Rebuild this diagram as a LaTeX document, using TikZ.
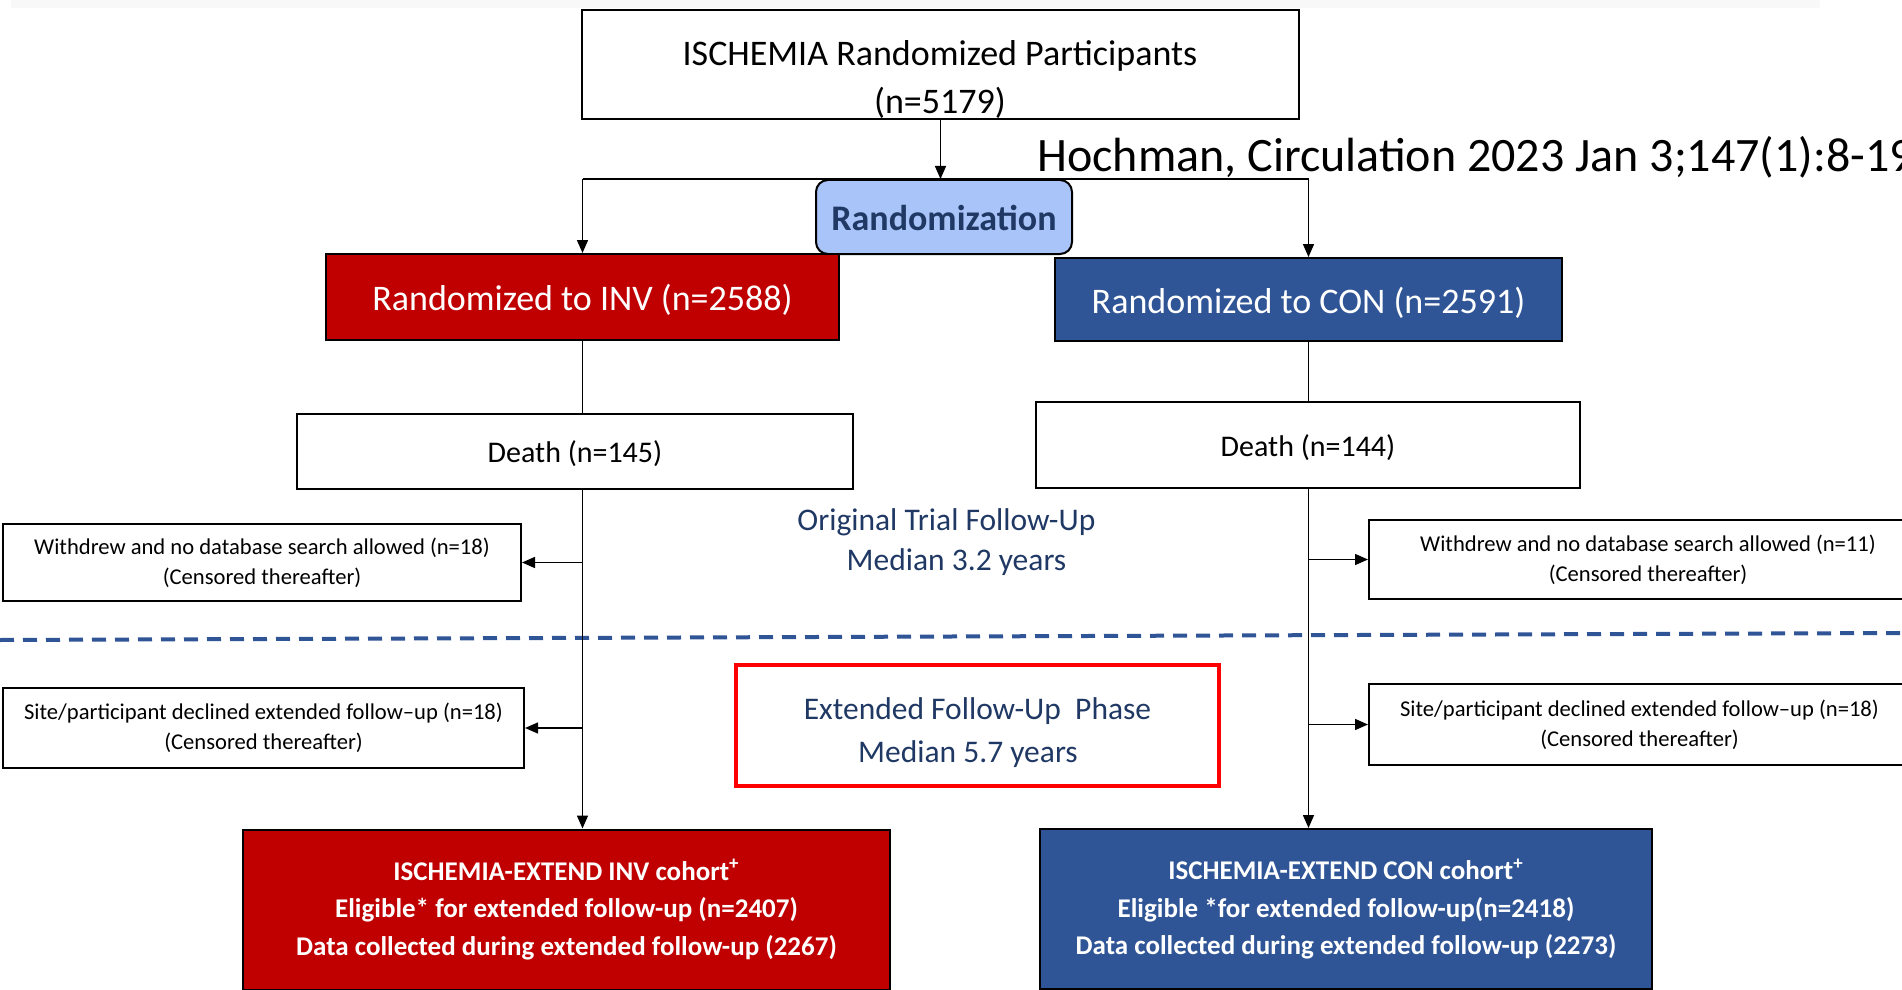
\documentclass[tikz,border=0pt]{standalone}
\usepackage{fontspec}
\setmainfont{Carlito}
\usetikzlibrary{arrows.meta}
\definecolor{invred}{HTML}{C00000}
\definecolor{conblue}{HTML}{2F5597}
\definecolor{randfill}{HTML}{A9C4F9}
\definecolor{navy}{HTML}{1F3864}
\definecolor{dashblue}{HTML}{2F5597}
\definecolor{stripgray}{HTML}{F8F8F8}
\definecolor{extred}{HTML}{FF0000}
\newcommand{\fsz}[2]{\fontsize{#1}{#2}\selectfont}
\newcommand{\dn}[2]{\raisebox{-#1}[\height][\depth]{#2}}
\begin{document}
\begin{tikzpicture}[x=0.5pt,y=-0.5pt,
  box/.style={draw=black,line width=1pt,inner sep=0pt,align=center},
  conn/.style={line width=0.75pt,-{Triangle[length=6.5pt,width=5.5pt]}},
  plainline/.style={line width=0.75pt},
  smalltxt/.style={font=\fsz{11.3pt}{15pt}},
  cohort/.style={box,text=white,font=\fsz{13.5pt}{18.75pt}\bfseries},
]
\useasboundingbox (0,0) rectangle (1902,990);
\clip (0,0) rectangle (1902,990);
\fill[stripgray] (11,0) rectangle (1820,8);
\draw[dashblue,line width=2pt,dash pattern=on 7pt off 4.5pt] (0,640) -- (1902,633);

% boxes
\node[box,minimum width=358.5pt,minimum height=54.5pt] (top) at (940.5,64.5) {};
\node[font=\fsz{18pt}{24pt},align=center] (toptext) at (940,79.5) {ISCHEMIA Randomized Participants\\(n=5179)};

\node[box,rounded corners=6pt,fill=randfill,minimum width=128pt,minimum height=37pt,
      font=\fsz{18pt}{22pt}\bfseries,text=navy] (rand) at (944,217) {\dn{0.6pt}{Randomization}};

\node[box,fill=invred,text=white,minimum width=256.5pt,minimum height=43pt,font=\fsz{18pt}{22pt}]
  (inv) at (582.5,297) {\dn{1.2pt}{Randomized to INV (n=2588)}};
\node[box,fill=conblue,text=white,minimum width=253.5pt,minimum height=41.5pt,font=\fsz{18pt}{22pt}]
  (con) at (1308.5,299.5) {\dn{1.8pt}{Randomized to CON (n=2591)}};

\node[box,minimum width=278pt,minimum height=37.5pt,font=\fsz{15pt}{18pt}] (deathL) at (575,451.5) {\dn{1.2pt}{Death (n=145)}};
\node[box,minimum width=272pt,minimum height=43pt,font=\fsz{15pt}{18pt}] (deathR) at (1308,445) {\dn{1.2pt}{Death (n=144)}};

\node[box,smalltxt,minimum width=259pt,minimum height=38.5pt] (wL) at (262,562.5)
  {Withdrew and no database search allowed (n=18)\\(Censored thereafter)};
\node[box,smalltxt,minimum width=260.5pt,minimum height=40pt] (sL) at (263.5,728)
  {Site/participant declined extended follow--up (n=18)\\(Censored thereafter)};
\node[box,smalltxt,minimum width=279pt,minimum height=39.5pt] (wR) at (1648,559.5)
  {Withdrew and no database search allowed (n=11)\\(Censored thereafter)};
\node[box,smalltxt,minimum width=270.5pt,minimum height=40.5pt] (sR) at (1639.5,724.5)
  {Site/participant declined extended follow--up (n=18)\\(Censored thereafter)};

\node[align=center,text=navy,font=\fsz{15.75pt}{20pt}] (orig) at (946.5,542)
  {Original Trial Follow-Up\\\hspace*{10pt}Median 3.2 years};

\node[box,draw=extred,line width=2pt,text=navy,font=\fsz{15.75pt}{21.5pt},
      minimum width=241.5pt,minimum height=60.5pt] (ext) at (977.5,725.5)
  {\dn{3.5pt}{\begin{tabular}{@{}c@{}}Extended Follow-Up~~Phase\\Median 5.7 years\hspace*{9.5pt}\end{tabular}}};

\node[cohort,fill=invred,minimum width=323.5pt,minimum height=80pt] (cinv) at (566.5,909.5)
  {ISCHEMIA-EXTEND INV cohort\textsuperscript{+}\\Eligible* for extended follow-up (n=2407)\\Data collected during extended follow-up (2267)};
\node[cohort,fill=conblue,minimum width=306pt,minimum height=80pt] (ccon) at (1346,909)
  {ISCHEMIA-EXTEND CON cohort\textsuperscript{+}\\Eligible *for extended follow-up(n=2418)\\Data collected during extended follow-up (2273)};

\node[font=\fsz{24pt}{29pt},anchor=base west,inner sep=0pt] (ref) at (1037,171)
  {Hochman, Circulation 2023 Jan 3;147(1):8-19};

% connectors
\coordinate (jl) at (582.5,179);
\coordinate (jr) at (1308.5,179);
\draw[plainline] (jl) -- (jr);
\draw[conn] (top.south) -- (top.south |- rand.north);
\draw[conn] (jl) -- (inv.north);
\draw[conn] (jr) -- (con.north);
\draw[plainline] (inv.south) -- (inv.south |- deathL.north);
\draw[conn] (inv.south |- deathL.south) -- (inv.south |- cinv.north);
\draw[conn] (inv.south |- wL.east) -- (wL.east);
\draw[conn] (inv.south |- sL.east) -- (sL.east);
\draw[plainline] (con.south) -- (con.south |- deathR.north);
\draw[conn] (con.south |- deathR.south) -- (con.south |- ccon.north);
\draw[conn] (con.south |- wR.west) -- (wR.west);
\draw[conn] (con.south |- sR.west) -- (sR.west);
\end{tikzpicture}
\end{document}
